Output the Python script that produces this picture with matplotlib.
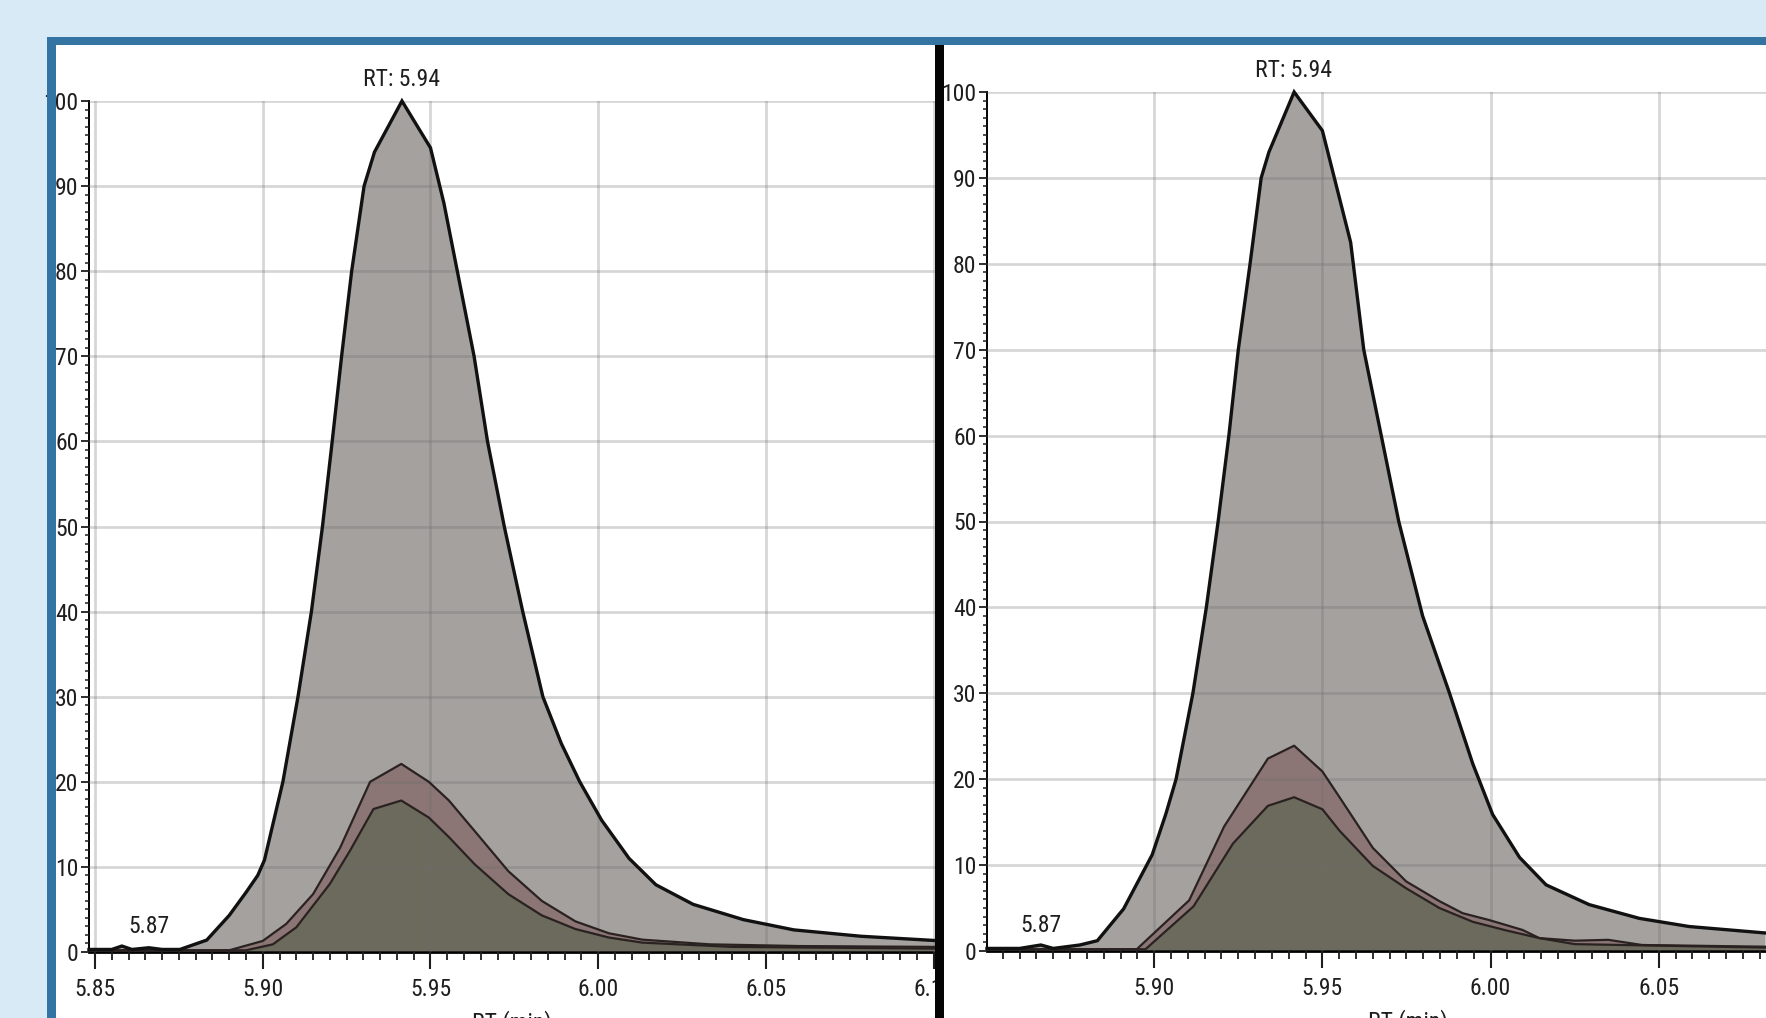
import matplotlib
matplotlib.use("Agg")
import matplotlib.pyplot as plt
from matplotlib import font_manager
from matplotlib.patches import Rectangle
from matplotlib.ticker import MultipleLocator, FixedLocator, FuncFormatter

# ---------------- data ----------------
# Left chromatogram
left_big_x = [5.8482, 5.855, 5.858, 5.861, 5.866, 5.870, 5.8753, 5.8833, 5.890, 5.895, 5.8985,
              5.9005, 5.906, 5.9105, 5.9145, 5.9178, 5.9207, 5.9235, 5.9265, 5.9302, 5.9333, 5.9415,
              5.950, 5.954, 5.958, 5.963, 5.967, 5.972, 5.9775, 5.9835, 5.9890, 5.9945, 6.0010,
              6.0092, 6.0172, 6.0283, 6.0433, 6.0583, 6.0783, 6.1004]
left_big_y = [0.3, 0.3, 0.7, 0.3, 0.5, 0.3, 0.3, 1.4, 4.3, 7.0, 9.0,
              10.8, 20.0, 30.0, 40.0, 50.0, 60.0, 70.0, 80.0, 90.0, 94.0, 100.0,
              94.5, 88.0, 80.0, 70.0, 60.0, 50.0, 40.0, 30.0, 24.5, 20.0, 15.5,
              11.0, 7.9, 5.6, 3.8, 2.6, 1.85, 1.35]

left_mid_x = [5.8482, 5.890, 5.900, 5.907, 5.915, 5.923, 5.932, 5.9413, 5.9495, 5.9555, 5.9632,
              5.9732, 5.9832, 5.9932, 6.0032, 6.0132, 6.0332, 6.060, 6.1004]
left_mid_y = [0.2, 0.2, 1.3, 3.3, 6.8, 12.2, 20.0, 22.1, 20.0, 17.8, 14.2,
              9.5, 6.0, 3.6, 2.2, 1.45, 0.9, 0.7, 0.6]

left_low_x = [5.8482, 5.895, 5.903, 5.910, 5.920, 5.926, 5.933, 5.9413, 5.9495, 5.9555, 5.9632,
              5.9732, 5.9832, 5.9932, 6.0032, 6.0132, 6.040, 6.1004]
left_low_y = [0.2, 0.2, 0.9, 2.9, 8.0, 11.9, 16.8, 17.8, 15.8, 13.5, 10.3,
              6.8, 4.3, 2.7, 1.7, 1.1, 0.6, 0.4]

# Right chromatogram
right_big_x = [5.8503, 5.860, 5.8663, 5.870, 5.8779, 5.8831, 5.8909, 5.8994, 5.9035, 5.9065,
               5.9115, 5.9155, 5.9190, 5.9222, 5.9250, 5.9285, 5.9318, 5.9341, 5.9416, 5.950, 5.9584,
               5.9623, 5.9675, 5.9727, 5.9798, 5.9878, 5.9947, 6.0006, 6.0086, 6.0165, 6.0293,
               6.0442, 6.0590, 6.0816]
right_big_y = [0.3, 0.3, 0.7, 0.3, 0.7, 1.2, 4.9, 11.2, 16.0, 20.0,
               30.0, 40.0, 50.0, 60.0, 70.0, 80.0, 90.0, 93.0, 100.0, 95.5, 82.5,
               70.0, 60.0, 50.0, 39.0, 30.0, 21.8, 15.9, 10.9, 7.7, 5.4,
               3.8, 2.85, 2.1]

right_mid_x = [5.8503, 5.8948, 5.9104, 5.9208, 5.9338, 5.9416, 5.950, 5.9551, 5.965, 5.9749,
               5.9848, 5.9917, 5.9996, 6.0095, 6.0145, 6.025, 6.035, 6.045, 6.0816]
right_mid_y = [0.2, 0.2, 5.9, 14.5, 22.4, 23.9, 20.9, 17.9, 12.0, 8.1,
               5.8, 4.4, 3.6, 2.45, 1.5, 1.2, 1.3, 0.7, 0.5]

right_low_x = [5.8503, 5.8974, 5.9117, 5.9234, 5.9338, 5.9416, 5.950, 5.9551, 5.965, 5.9749,
               5.9848, 5.9947, 6.0046, 6.0145, 6.025, 6.0816]
right_low_y = [0.2, 0.2, 5.2, 12.5, 16.9, 17.9, 16.5, 14.0, 9.9, 7.3,
               5.0, 3.4, 2.4, 1.5, 0.8, 0.4]

peak_label = "RT: 5.94"
peak_rt = 5.9415
minor_label = "5.87"
minor_rt_left = 5.8662
minor_rt_right = 5.8663
x_major_ticks = [5.85, 5.90, 5.95, 6.00, 6.05, 6.10]
y_major_ticks = [0, 10, 20, 30, 40, 50, 60, 70, 80, 90, 100]
x_label = "RT (min)"

# ---------------- style ----------------
names = {f.name for f in font_manager.fontManager.ttflist}
narrow = None
for cand in ["Liberation Sans Narrow", "DejaVu Sans Condensed", "Roboto Condensed",
             "Open Sans Condensed", "Noto Sans Condensed"]:
    if cand in names:
        narrow = cand
        break
if narrow is None:
    narrow = "Liberation Sans"
    FS = 15
else:
    FS = 17
plt.rcParams['font.family'] = [narrow, 'DejaVu Sans']

W, H = 1766, 1018
fig = plt.figure(figsize=(W / 100, H / 100), dpi=100)
fig.patch.set_facecolor('#d8eaf6')

def fx(px):
    return px / W

def fy(py):
    return 1 - py / H

# white panel
fig.patches.append(Rectangle((fx(56), 0), 1 - fx(56), fy(45), transform=fig.transFigure,
                             facecolor='white', edgecolor='none', zorder=-1))

C_BIG = '#a4a19f'
C_MID = '#8b7675'
C_LOW = '#6b6a5d'
C_EDGE = '#2a2221'
GRID = '#6e6e6e'


def setup(ax, xlim, xlabel_pad):
    ax.set_xlim(*xlim)
    ax.set_ylim(0, 100)
    ax.set_facecolor('white')
    for s in ['top', 'right']:
        ax.spines[s].set_visible(False)
    ax.spines['left'].set_linewidth(1.4)
    ax.spines['bottom'].set_linewidth(2.0)
    ax.xaxis.set_major_locator(FixedLocator(x_major_ticks))
    ax.xaxis.set_minor_locator(MultipleLocator(0.005))
    ax.yaxis.set_major_locator(FixedLocator(y_major_ticks))
    ax.yaxis.set_minor_locator(MultipleLocator(1))
    ax.xaxis.set_major_formatter(FuncFormatter(lambda v, p: f"{v:.2f}"))
    ax.yaxis.set_major_formatter(FuncFormatter(lambda v, p: f"{int(round(v))}"))
    ax.tick_params(axis='x', which='major', length=12, width=1.5, pad=7,
                   labelsize=FS, colors='#1e1e1e', direction='out')
    ax.tick_params(axis='x', which='minor', length=6, width=1.3, direction='out', colors='#1e1e1e')
    ax.tick_params(axis='y', which='major', length=6, width=1.3, pad=1.5,
                   labelsize=FS, colors='#1e1e1e', direction='out')
    ax.tick_params(axis='y', which='minor', length=3, width=1.1, direction='out', colors='#1e1e1e')
    ax.set_axisbelow(False)
    ax.grid(True, which='major', color=GRID, alpha=0.28, linewidth=2.0, zorder=2.5)
    ax.set_xlabel(x_label, fontsize=FS, labelpad=xlabel_pad, color='#1e1e1e')


def draw(ax, bx, by, mx, my, lx, ly, minor_rt):
    ax.fill_between(bx, 0, by, color=C_BIG, linewidth=0, zorder=1)
    ax.fill_between(mx, 0, my, color=C_MID, linewidth=0, zorder=1.2)
    ax.fill_between(lx, 0, ly, color=C_LOW, linewidth=0, zorder=1.4)
    ax.plot(mx, my, color=C_EDGE, linewidth=1.6, zorder=3, clip_on=False)
    ax.plot(lx, ly, color=C_EDGE, linewidth=1.6, zorder=3.1, clip_on=False)
    ax.plot(bx, by, color='#111111', linewidth=2.4, zorder=3.2, clip_on=False,
            solid_joinstyle='miter')
    ax.annotate(peak_label, xy=(peak_rt, 100), xytext=(0, 7), textcoords='offset points',
                ha='center', va='bottom', fontsize=FS, color='#1e1e1e', annotation_clip=False)
    ax.annotate(minor_label, xy=(minor_rt, 0.5), xytext=(0, 7), textcoords='offset points',
                ha='center', va='bottom', fontsize=FS, color='#1e1e1e')


axL = fig.add_axes([fx(89), fy(952), fx(935 - 89), (952 - 101) / H], zorder=0)
setup(axL, (5.8482, 6.1004), 6)
draw(axL, left_big_x, left_big_y, left_mid_x, left_mid_y, left_low_x, left_low_y, minor_rt_left)

axR = fig.add_axes([fx(987), fy(951), fx(1828 - 987), (951 - 92) / H], zorder=1)
setup(axR, (5.8503, 6.1003), 6)
draw(axR, right_big_x, right_big_y, right_mid_x, right_mid_y, right_low_x, right_low_y, minor_rt_right)

# white strip between divider and the right panel (hides overflow of left labels)
fig.patches.append(Rectangle((fx(944), 0), fx(987 - 944), fy(45), transform=fig.transFigure,
                             facecolor='white', edgecolor='none', zorder=0.5))
# divider
fig.patches.append(Rectangle((fx(935), 0), fx(9), fy(45), transform=fig.transFigure,
                             facecolor='#050505', edgecolor='none', zorder=10))
# blue frame
FRAME = '#3474a3'
fig.patches.append(Rectangle((fx(47), fy(45)), 1 - fx(47), (45 - 37) / H, transform=fig.transFigure,
                             facecolor=FRAME, edgecolor='none', zorder=10))
fig.patches.append(Rectangle((fx(47), 0), fx(9), fy(37), transform=fig.transFigure,
                             facecolor=FRAME, edgecolor='none', zorder=10))

fig.savefig("out.png", dpi=100, facecolor=fig.get_facecolor())
